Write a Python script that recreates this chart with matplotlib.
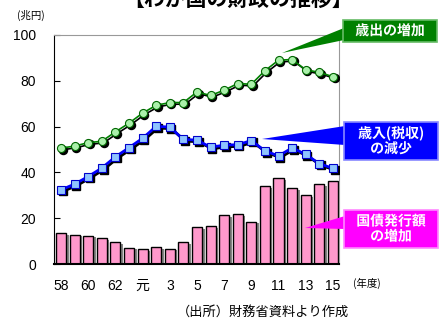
import numpy as np
import matplotlib
matplotlib.use("Agg")
import matplotlib.pyplot as plt
from matplotlib.patches import Polygon, Rectangle
from matplotlib.transforms import ScaledTranslation
import matplotlib.patheffects as pe

plt.rcParams['font.family'] = ['Liberation Sans', 'Noto Sans CJK JP', 'DejaVu Sans']

# 昭和58年度〜平成15年度
years = ['58', '59', '60', '61', '62', '63', '元', '2', '3', '4', '5',
         '6', '7', '8', '9', '10', '11', '12', '13', '14', '15']
expenditure = [50.6, 51.5, 53.0, 53.6, 57.7, 61.5, 65.9, 69.3, 70.5, 70.5, 75.1,
               73.6, 75.9, 78.8, 78.5, 84.4, 89.0, 89.3, 84.8, 83.7, 81.8]
tax_revenue = [32.4, 34.9, 38.2, 41.9, 46.8, 50.8, 54.9, 60.1, 59.8, 54.4, 54.1,
               51.0, 51.9, 52.1, 53.9, 49.4, 47.2, 50.7, 47.9, 43.8, 41.8]
bonds = [13.5, 12.8, 12.3, 11.3, 9.4, 7.2, 6.6, 7.3, 6.7, 9.5, 16.2,
         16.5, 21.2, 21.7, 18.5, 34.0, 37.5, 33.0, 30.0, 35.0, 36.4]

W, H = 448, 324
fig = plt.figure(figsize=(W / 100, H / 100), dpi=100)
ax = fig.add_axes([54 / W, 1 - 264 / H, 285 / W, 229 / H])

x = np.arange(len(years))
shadow = ax.transData + ScaledTranslation(1.2 / 72, -1.2 / 72, fig.dpi_scale_trans)

ax.bar(x, bonds, width=0.74, color='#ff99cc', edgecolor='black', linewidth=1.0,
       zorder=2, path_effects=[pe.SimplePatchShadow(offset=(1.8, -1.2), shadow_rgbFace='#777777', alpha=0.9),
                               pe.Normal()])

# 歳出
ax.plot(x, expenditure, color='black', lw=1.2, marker='o', ms=5.8, mfc='black', mec='black',
        transform=shadow, zorder=3)
ax.plot(x, expenditure, color='#008000', lw=1.2, marker='o', ms=5.8, mfc='#aaf0aa',
        mec='#006600', mew=0.8, zorder=4)

# 税収
ax.plot(x, tax_revenue, color='black', lw=2.0, marker='s', ms=6, mfc='black', mec='black',
        transform=shadow, zorder=3)
ax.plot(x, tax_revenue, color='#0000ff', lw=2.0, marker='s', ms=6, mfc='#8fc4ff',
        mec='#0000cc', mew=0.8, zorder=4)

ax.set_xlim(-0.52, 20.45)
ax.set_ylim(0, 100)
ax.set_yticks(range(0, 101, 20))
ax.tick_params(axis='y', direction='in', length=4, pad=13, labelsize=10)
ax.set_xticks(x[::2])
ax.set_xticklabels(years[::2])
ax.tick_params(axis='x', length=0, pad=11, labelsize=10)
for s in ['top', 'right']:
    ax.spines[s].set_color('#999999')
ax.spines['left'].set_color('black')
ax.spines['bottom'].set_linewidth(1.5)


def fx(px):
    return px / W


def fy(py):
    return 1 - py / H


# タイトル（上端で切れている）
fig.text(fx(238), fy(-1), '【わが国の財政の推移】', ha='center', va='center',
         fontsize=15, fontweight='bold', family=['Noto Sans CJK JP'])

fig.text(fx(31), fy(15), '(兆円)', ha='center', va='center', fontsize=7.5,
         family=['Noto Sans CJK JP'])
fig.text(fx(367), fy(283), '(年度)', ha='center', va='center', fontsize=7.5,
         family=['Noto Sans CJK JP'])
fig.text(fx(263), fy(312), '（出所）財務省資料より作成', ha='center', va='center',
         fontsize=9.5, family=['Noto Sans CJK JP'])


def callout(box, tip, base, color, label, edge):
    x0, y0, x1, y1 = box
    fig.patches.append(Polygon([(fx(tip[0]), fy(tip[1])), (fx(x0 + 1), fy(base[0])),
                                (fx(x0 + 1), fy(base[1]))], closed=True,
                               transform=fig.transFigure, facecolor=color, edgecolor='none'))
    fig.patches.append(Rectangle((fx(x0), fy(y1)), fx(x1) - fx(x0), fy(y0) - fy(y1),
                                 transform=fig.transFigure, facecolor=color,
                                 edgecolor=edge, linewidth=1.2))
    fig.text(fx((x0 + x1) / 2), fy((y0 + y1) / 2), label, ha='center', va='center',
             color='white', fontsize=10, fontweight='bold', linespacing=1.1,
             family=['Noto Sans CJK JP'],
             path_effects=[pe.withStroke(linewidth=1.0, foreground=color)])


callout((343, 20, 437, 42), (282, 53), (28, 40), '#008000', '歳出の増加', '#66bb66')
callout((344, 122, 438, 160), (262, 139), (126, 145), '#0000ff', '歳入(税収)\nの減少', '#8888ff')
callout((344, 210, 438, 248), (305, 228), (216, 229), '#ff00ff', '国債発行額\nの増加', '#ff88ff')

fig.savefig('out.png', dpi=100)
